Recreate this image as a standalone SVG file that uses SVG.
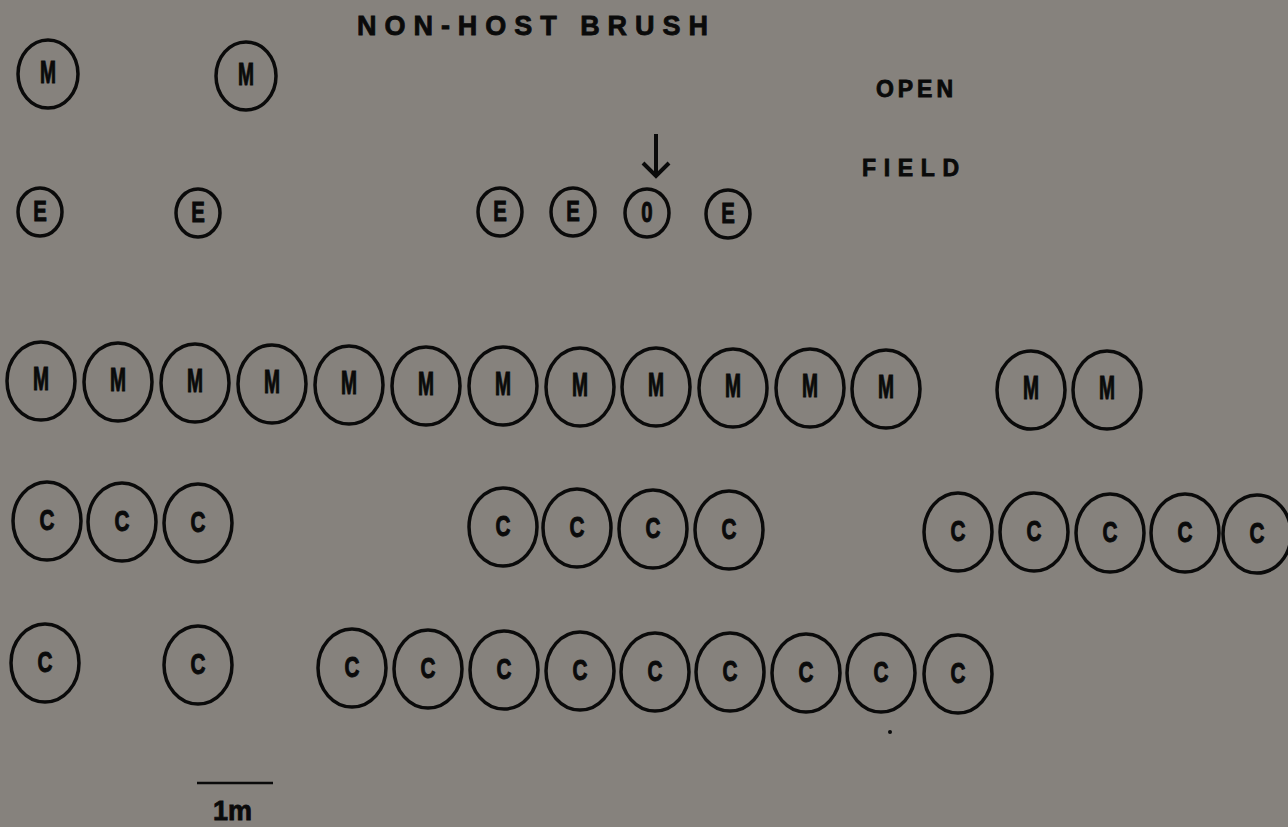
<svg xmlns="http://www.w3.org/2000/svg" width="1288" height="827" viewBox="0 0 1288 827">
<style>
.c{fill:none;stroke:#0a0a0a;stroke-width:3.5}
.t{font-family:"Liberation Sans",Arial,sans-serif;font-weight:bold;fill:#0a0a0a;stroke:#0a0a0a;stroke-width:0.8;text-anchor:middle}
.m{font-size:24px}
.e{font-size:24px}
.cc{font-size:23px}
.lab{font-family:"Liberation Sans",Arial,sans-serif;font-weight:bold;fill:#0a0a0a;stroke:#0a0a0a;stroke-width:0.8;font-size:27px}
.sm{font-size:23px}
</style>
<defs>
<g id="M"><ellipse class="c" cx="0" cy="0" rx="34" ry="39"/><text class="t m" x="0" y="7" transform="scale(0.8,1.35)">M</text></g>
<g id="Mt"><ellipse class="c" cx="0" cy="0" rx="30" ry="34"/><text class="t m" x="0" y="7" transform="scale(0.8,1.3)">M</text></g>
<g id="E"><ellipse class="c" cx="0" cy="0" rx="22" ry="24"/><text class="t e" x="0" y="7" transform="scale(0.85,1.25)">E</text></g>
<g id="O"><ellipse class="c" cx="0" cy="0" rx="22" ry="24"/><text class="t e" x="0" y="7" transform="scale(0.85,1.25)">0</text></g>
<g id="C"><ellipse class="c" cx="0" cy="0" rx="34" ry="39"/><text class="t cc" x="0" y="7" transform="scale(0.9,1.3)">C</text></g>
</defs>
<rect width="1288" height="827" fill="#86827d"/>
<g id="labels">
<text class="lab" x="357" y="35" textLength="351" lengthAdjust="spacing">NON-HOST BRUSH</text>
<text class="lab sm" x="876" y="97" textLength="77" lengthAdjust="spacing">OPEN</text>
<text class="lab sm" x="862" y="176" textLength="97" lengthAdjust="spacing">FIELD</text>
</g>
<g id="top-row">
<use href="#Mt" x="48" y="74"/>
<use href="#Mt" x="246" y="76"/>
</g>
<g id="e-row">
<use href="#E" x="40" y="212"/>
<use href="#E" x="198" y="213"/>
<use href="#E" x="500" y="212"/>
<use href="#E" x="573" y="212"/>
<use href="#O" x="647" y="213"/>
<use href="#E" x="728" y="214"/>
</g>
<g id="connectors">
<line x1="656" y1="134" x2="656" y2="176" stroke="#0a0a0a" stroke-width="4"/>
<polyline points="643,163 656,176 669,163" fill="none" stroke="#0a0a0a" stroke-width="4" stroke-linejoin="miter"/>
</g>
<g id="m-row">
<use href="#M" x="41" y="381"/>
<use href="#M" x="118" y="382"/>
<use href="#M" x="195" y="383"/>
<use href="#M" x="272" y="384"/>
<use href="#M" x="349" y="385"/>
<use href="#M" x="426" y="386"/>
<use href="#M" x="503" y="386"/>
<use href="#M" x="580" y="387"/>
<use href="#M" x="656" y="387"/>
<use href="#M" x="733" y="388"/>
<use href="#M" x="810" y="388"/>
<use href="#M" x="886" y="389"/>
<use href="#M" x="1031" y="390"/>
<use href="#M" x="1107" y="390"/>
</g>
<g id="c-row-1">
<use href="#C" x="47" y="521"/>
<use href="#C" x="122" y="522"/>
<use href="#C" x="198" y="523"/>
<use href="#C" x="503" y="527"/>
<use href="#C" x="577" y="528"/>
<use href="#C" x="653" y="529"/>
<use href="#C" x="729" y="530"/>
<use href="#C" x="958" y="532"/>
<use href="#C" x="1034" y="532"/>
<use href="#C" x="1110" y="533"/>
<use href="#C" x="1185" y="533"/>
<use href="#C" x="1257" y="534"/>
</g>
<g id="c-row-2">
<use href="#C" x="45" y="663"/>
<use href="#C" x="198" y="665"/>
<use href="#C" x="352" y="668"/>
<use href="#C" x="428" y="669"/>
<use href="#C" x="504" y="670"/>
<use href="#C" x="580" y="671"/>
<use href="#C" x="655" y="672"/>
<use href="#C" x="730" y="672"/>
<use href="#C" x="806" y="673"/>
<use href="#C" x="881" y="673"/>
<use href="#C" x="958" y="674"/>
</g>
<circle cx="890" cy="732" r="2" fill="#0a0a0a"/>
<g id="scale">
<line x1="197" y1="783" x2="273" y2="783" stroke="#0a0a0a" stroke-width="2.5"/>
<text class="lab" x="213" y="820" font-size="22">1m</text>
</g>
</svg>
